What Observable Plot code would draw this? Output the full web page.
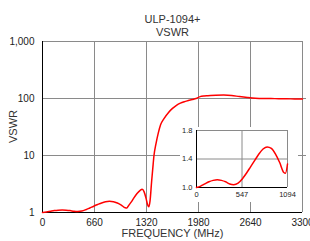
<!DOCTYPE html>
<html>
<head>
<meta charset="utf-8">
<script src="https://cdn.jsdelivr.net/npm/d3@7"></script>
<script src="https://cdn.jsdelivr.net/npm/@observablehq/plot@0.6"></script>
<style>
  body { margin: 0; background: white; }
  #wrap { position: relative; width: 310px; height: 241px; }
  #inset { position: absolute; left: 180px; top: 127px; }
  svg { overflow: visible; }
</style>
</head>
<body>
<div id="wrap"><div id="main"></div><div id="inset"></div></div>
<script>
const title = ["ULP-1094+", "VSWR"];
const xLabel = "FREQUENCY (MHz)";
const yLabel = "VSWR";
const xTicks = [0, 660, 1320, 1980, 2640, 3300];
const yTicks = [1, 10, 100, 1000];
const insetXTicks = [0, 547, 1094];
const insetYTicks = [1.0, 1.4, 1.8];

const freq = [0, 50, 100, 150, 200, 250, 300, 350, 400, 447, 500, 550, 600, 650, 700, 750, 800, 850, 900, 950, 1000, 1050, 1070, 1094,
  1130, 1160, 1200, 1240, 1265, 1290, 1315, 1335, 1349, 1365, 1385, 1400, 1415, 1440, 1470, 1500, 1540, 1600, 1650, 1700, 1750, 1800,
  1850, 1900, 1950, 2000, 2050, 2100, 2200, 2300, 2400, 2500, 2600, 2700, 2800, 2900, 3000, 3100, 3200, 3300];
const vswr = [1.00, 1.02, 1.05, 1.08, 1.10, 1.11, 1.10, 1.08, 1.05, 1.04, 1.06, 1.12, 1.20, 1.29, 1.38, 1.47, 1.54, 1.57, 1.55, 1.47, 1.35, 1.21, 1.20, 1.33,
  1.55, 1.80, 2.15, 2.45, 2.55, 2.30, 1.75, 1.35, 1.26, 1.60, 3.5, 6, 10, 16, 25, 35, 44, 57, 67, 76, 83, 88,
  92, 96, 100, 108, 111, 112, 114, 115, 113, 108, 104, 101, 100, 100, 99, 99, 98, 98];

const data = freq.map((f, i) => ({f, v: vswr[i]}));
const insetData = data.filter(d => d.f <= 1094);

const font = "Liberation Sans, Arial, sans-serif";
const grid = "#8a8a8a";

const main = Plot.plot({
  width: 310, height: 241,
  marginTop: 41, marginBottom: 29, marginLeft: 42, marginRight: 8,
  style: {fontFamily: font, color: "#222", background: "white"},
  x: {domain: [0, 3300]},
  y: {type: "log", domain: [1, 1000]},
  marks: [
    Plot.ruleX(xTicks.slice(1), {stroke: grid, strokeWidth: 1}),
    Plot.ruleY(yTicks.slice(1), {stroke: grid, strokeWidth: 1}),
    Plot.axisY({ticks: [10, 100], anchor: "right", tickSize: 3, tickFormat: () => "", stroke: grid, label: null}),
    Plot.axisY({ticks: yTicks, tickFormat: d3.format(","), tickSize: 0, tickPadding: 8, fontSize: 10, label: null}),
    Plot.axisX({ticks: xTicks, tickFormat: d3.format("d"), tickSize: 0, tickPadding: 6, fontSize: 10, label: null}),
    Plot.ruleX([0], {stroke: "black"}),
    Plot.ruleY([1], {stroke: "black"}),
    Plot.line(data, {x: "f", y: "v", stroke: "#ff0000", strokeWidth: 1.5, curve: "monotone-x"}),
    Plot.text([title[0]], {frameAnchor: "top", dy: -26, fontSize: 11, fill: "#333"}),
    Plot.text([title[1]], {frameAnchor: "top", dy: -13, fontSize: 11, fill: "#333"}),
    Plot.text([xLabel], {frameAnchor: "bottom", dy: 24, fontSize: 11, fill: "#333"}),
    Plot.text([yLabel], {frameAnchor: "left", dx: -29, dy: 16, rotate: -90, fontSize: 11, fill: "#333"})
  ]
});
document.getElementById("main").appendChild(main);

const inset = Plot.plot({
  width: 118, height: 75,
  marginTop: 3, marginBottom: 15, marginLeft: 16, marginRight: 11,
  style: {fontFamily: font, color: "#222", background: "white"},
  x: {domain: [0, 1094]},
  y: {domain: [1.0, 1.8]},
  marks: [
    Plot.ruleX(insetXTicks.slice(1), {stroke: grid}),
    Plot.ruleY(insetYTicks.slice(1), {stroke: grid}),
    Plot.axisY({ticks: insetYTicks, tickFormat: d3.format(".1f"), tickSize: 0, tickPadding: 4, fontSize: 7.5, label: null}),
    Plot.axisX({ticks: insetXTicks, tickFormat: d3.format("d"), tickSize: 0, tickPadding: 4, fontSize: 7.5, label: null}),
    Plot.ruleX([0], {stroke: "black"}),
    Plot.ruleY([1.0], {stroke: "black"}),
    Plot.line(insetData, {x: "f", y: "v", stroke: "#ff0000", strokeWidth: 1.5, curve: "monotone-x"})
  ]
});
document.getElementById("inset").appendChild(inset);
</script>
</body>
</html>
